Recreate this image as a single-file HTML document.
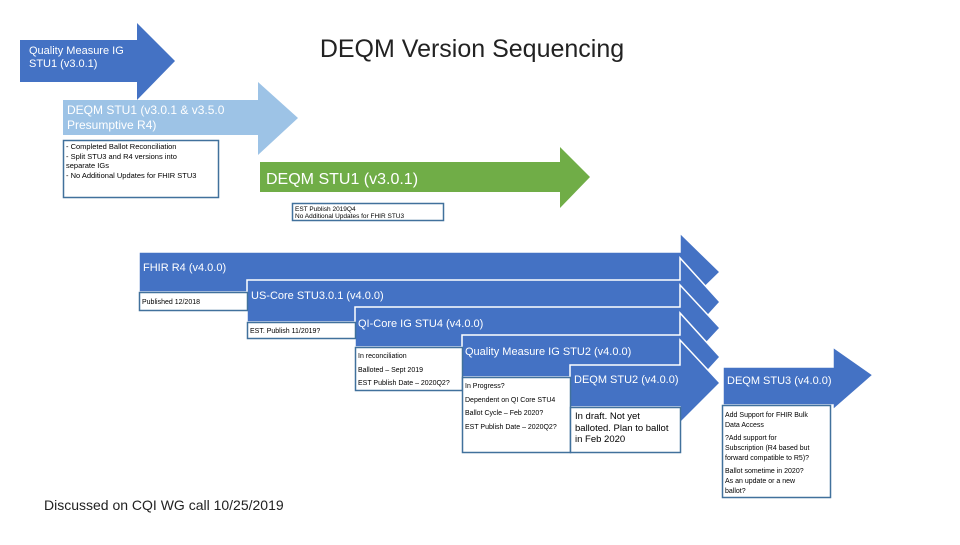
<!DOCTYPE html>
<html><head><meta charset="utf-8"><style>
html,body{margin:0;padding:0;background:#fff;}
svg text{font-family:"Liberation Sans",sans-serif;}
</style></head><body>
<svg width="960" height="540" viewBox="0 0 960 540" xmlns="http://www.w3.org/2000/svg">
<rect width="960" height="540" fill="#fff"/>
<text x="472" y="57" font-size="25" text-anchor="middle" fill="#222">DEQM Version Sequencing</text>
<!-- QM IG STU1 -->
<polygon points="20,40 137,40 137,23 175,61 137,100 137,82 20,82" fill="#4472C4"/>
<text x="29" y="54" font-size="11" fill="#fff">Quality Measure IG</text>
<text x="29" y="67" font-size="11" fill="#fff">STU1 (v3.0.1)</text>
<!-- DEQM STU1 light -->
<polygon points="63,100 258,100 258,82 298,118 258,155 258,135 63,135" fill="#9DC3E6"/>
<text x="67" y="114" font-size="12" fill="#fff">DEQM STU1 (v3.0.1 &amp; v3.5.0</text>
<text x="67" y="129" font-size="12" fill="#fff">Presumptive R4)</text>
<rect x="63.5" y="140.5" width="155" height="57" fill="#fff" stroke="#41719C" stroke-width="1.5"/>
<g font-size="7.5" fill="#000">
<text x="66" y="149">- Completed Ballot Reconciliation</text>
<text x="66" y="159">- Split STU3 and R4 versions into</text>
<text x="66" y="168">separate IGs</text>
<text x="66" y="178">- No Additional Updates for FHIR STU3</text>
</g>
<!-- green -->
<polygon points="260,162 560,162 560,147 590,177 560,208 560,192 260,192" fill="#70AD47"/>
<text x="266" y="184" font-size="16" fill="#fff">DEQM STU1 (v3.0.1)</text>
<rect x="292.5" y="203.5" width="151" height="17" fill="#fff" stroke="#41719C" stroke-width="1.5"/>
<text x="295" y="211" font-size="6.5">EST Publish 2019Q4</text>
<text x="295" y="218" font-size="6.5">No Additional Updates for FHIR STU3</text>
<!-- stacked arrows -->
<g fill="#4472C4" stroke="#fff" stroke-width="1.5">
<polygon points="139,252 680,252 680,233 720,272 680,311 680,292 139,292"/>
<polygon points="247,280 680,280 680,258 720,302 680,346 680,322 247,322"/>
<polygon points="355,307 680,307 680,285 720,328 680,371 680,347 355,347"/>
<polygon points="462,335 680,335 680,313 720,357 680,401 680,377 462,377"/>
<polygon points="570,365 680,365 680,340 720,383 680,423 680,407 570,407"/>
<polygon points="723,367 833,367 833,347 873,375 833,410 833,405 723,405"/>
</g>
<g fill="#fff">
<text x="143" y="271" font-size="11">FHIR R4 (v4.0.0)</text>
<text x="251" y="299" font-size="11">US-Core STU3.0.1 (v4.0.0)</text>
<text x="358" y="327" font-size="11">QI-Core IG STU4 (v4.0.0)</text>
<text x="465" y="355" font-size="11">Quality Measure IG STU2 (v4.0.0)</text>
<text x="574" y="383" font-size="11">DEQM STU2 (v4.0.0)</text>
<text x="727" y="384" font-size="11">DEQM STU3 (v4.0.0)</text>
</g>
<g fill="#fff" stroke="#41719C" stroke-width="1.5">
<rect x="139.5" y="292.5" width="108" height="18"/>
<rect x="247.5" y="322.5" width="108" height="16"/>
<rect x="355.5" y="347.5" width="107" height="43"/>
<rect x="462.5" y="377.5" width="108" height="75"/>
<rect x="570.5" y="407.5" width="110" height="45"/>
<rect x="722.5" y="405.5" width="108" height="92"/>
</g>
<g font-size="7" fill="#000">
<text x="142" y="304">Published 12/2018</text>
<text x="250" y="333">EST. Publish 11/2019?</text>
<text x="358" y="358">In reconciliation</text>
<text x="358" y="372">Balloted – Sept 2019</text>
<text x="358" y="385">EST Publish Date – 2020Q2?</text>
<text x="465" y="388">In Progress?</text>
<text x="465" y="402">Dependent on QI Core STU4</text>
<text x="465" y="415">Ballot Cycle – Feb 2020?</text>
<text x="465" y="429">EST Publish Date – 2020Q2?</text>
<text x="725" y="417">Add Support for FHIR Bulk</text>
<text x="725" y="427">Data Access</text>
<text x="725" y="440">?Add support for</text>
<text x="725" y="450">Subscription (R4 based but</text>
<text x="725" y="460">forward compatible to R5)?</text>
<text x="725" y="473">Ballot sometime in 2020?</text>
<text x="725" y="483">As an update or a new</text>
<text x="725" y="493">ballot?</text>
</g>
<g font-size="9.5" fill="#000">
<text x="575" y="419">In draft. Not yet</text>
<text x="575" y="431">balloted. Plan to ballot</text>
<text x="575" y="442">in Feb 2020</text>
</g>
<text x="44" y="510" font-size="14" fill="#222">Discussed on CQI WG call 10/25/2019</text>
</svg>
</body></html>
